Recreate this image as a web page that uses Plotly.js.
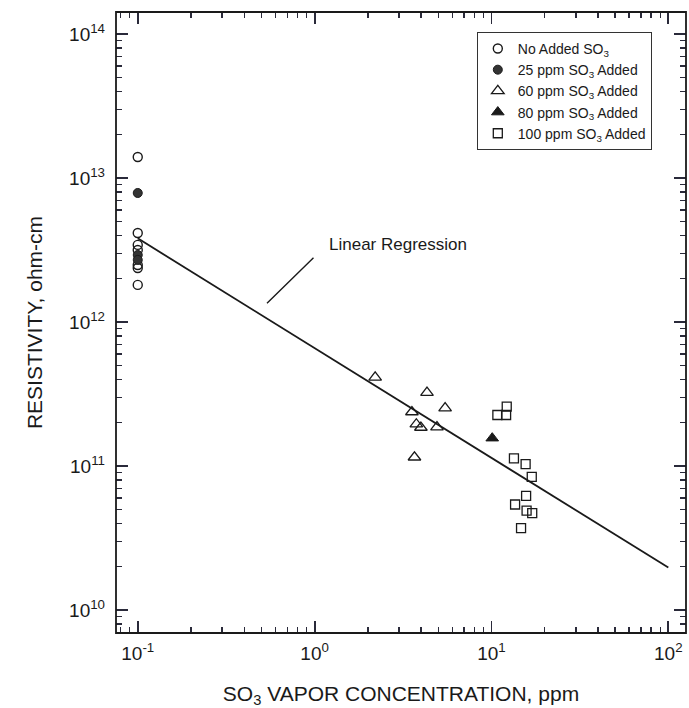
<!DOCTYPE html>
<html>
<head>
<meta charset="utf-8">
<script src="https://cdn.plot.ly/plotly-3.0.1.min.js"></script>
<style>
html,body{margin:0;padding:0;background:#fff;}
#chart{width:689px;height:708px;}
</style>
</head>
<body>
<div id="chart"></div>
<script>
// ---- data ----
const noAddedX = [0.1, 0.1, 0.1, 0.1, 0.1, 0.1, 0.1];
const noAddedY = [1.40e13, 4.15e12, 3.43e12, 3.16e12, 2.49e12, 2.37e12, 1.81e12];

const add25X = [0.1, 0.1, 0.1];
const add25Y = [7.87e12, 2.92e12, 2.70e12];

const add60X = [2.20, 4.32, 5.47, 3.55, 3.76, 3.99, 4.92, 3.67];
const add60Y = [4.13e11, 3.23e11, 2.52e11, 2.37e11, 1.95e11, 1.85e11, 1.86e11, 1.15e11];

const add80X = [10.1];
const add80Y = [1.56e11];

const add100X = [10.8, 12.1, 12.2, 13.4, 15.6, 16.9, 15.7, 13.6, 15.8, 17.0, 14.7];
const add100Y = [2.26e11, 2.26e11, 2.58e11, 1.13e11, 1.03e11, 8.4e10, 6.2e10, 5.4e10, 4.9e10, 4.7e10, 3.7e10];

const regX = [0.1, 100];
const regY = [3.81e12, 1.97e10];

const seriesNames = [
  "No Added SO<sub>3</sub>",
  "25 ppm SO<sub>3</sub> Added",
  "60 ppm SO<sub>3</sub> Added",
  "80 ppm SO<sub>3</sub> Added",
  "100 ppm SO<sub>3</sub> Added"
];

// tick labels
const xTickVals = [0.1, 1, 10, 100];
const xTickText = ["10<sup>-1</sup>", "10<sup>0</sup>", "10<sup>1</sup>", "10<sup>2</sup>"];
const yTickVals = [1e10, 1e11, 1e12, 1e13, 1e14];
const yTickText = ["10<sup>10</sup>", "10<sup>11</sup>", "10<sup>12</sup>", "10<sup>13</sup>", "10<sup>14</sup>"];

const xTitle = "SO<sub>3</sub> VAPOR CONCENTRATION, ppm";
const yTitle = "RESISTIVITY, ohm-cm";
const regLabel = "Linear Regression";

const FONT = "Liberation Sans, Arial, Helvetica, sans-serif";
const INK = "#1a1a1a";
const TICK = "#2a2a3a";

function minorVals(lo, hi) {
  const out = [];
  for (let e = lo; e <= hi; e++) {
    for (let d = 2; d <= 9; d++) out.push(d * Math.pow(10, e));
  }
  return out;
}
const xMinor = minorVals(-2, 2);
const yMinor = minorVals(9, 14);

const traces = [
  {x: regX, y: regY, mode: "lines", line: {color: INK, width: 1.8}, showlegend: false, hoverinfo: "skip"},
  {x: noAddedX, y: noAddedY, name: seriesNames[0], mode: "markers",
   marker: {symbol: "circle-open", size: 9, color: INK, line: {width: 1.4, color: INK}}},
  {x: add25X, y: add25Y, name: seriesNames[1], mode: "markers",
   marker: {symbol: "circle", size: 9, color: "#333333", line: {width: 1, color: INK}}},
  {x: add60X, y: add60Y, name: seriesNames[2], mode: "markers",
   marker: {symbol: "triangle-up-open", size: 11, color: INK, line: {width: 1.3, color: INK}}},
  {x: add80X, y: add80Y, name: seriesNames[3], mode: "markers",
   marker: {symbol: "triangle-up", size: 11, color: INK, line: {width: 1, color: INK}}},
  {x: add100X, y: add100Y, name: seriesNames[4], mode: "markers",
   marker: {symbol: "square-open", size: 9, color: INK, line: {width: 1.3, color: INK}}},
  // invisible helpers so the top and right tick axes get drawn
  {x: regX, y: regY, xaxis: "x2", yaxis: "y", mode: "lines", line: {width: 0, color: "rgba(0,0,0,0)"},
   showlegend: false, hoverinfo: "skip"},
  {x: regX, y: regY, xaxis: "x", yaxis: "y2", mode: "lines", line: {width: 0, color: "rgba(0,0,0,0)"},
   showlegend: false, hoverinfo: "skip"}
];

const xRange = [-1.123, 2.10];
const yRange = [9.840, 14.153];

function tickAxis(vals, minor, range, extra) {
  return Object.assign({
    type: "log", range: range, autorange: false,
    tickmode: "array", tickvals: vals,
    showgrid: false, zeroline: false, showline: false,
    ticks: "inside", ticklen: 12, tickwidth: 1.8, tickcolor: TICK,
    minor: {tickmode: "array", tickvals: minor, ticks: "inside", ticklen: 6, tickwidth: 1.4, tickcolor: TICK, showgrid: false}
  }, extra);
}

const layout = {
  width: 689,
  height: 708,
  margin: {l: 116, r: 3, t: 12, b: 75, pad: 0},
  paper_bgcolor: "#ffffff",
  plot_bgcolor: "#ffffff",
  font: {family: FONT, color: INK},
  showlegend: true,
  legend: {
    x: 0.633, y: 0.968, xanchor: "left", yanchor: "top",
    bgcolor: "#ffffff", bordercolor: "#333333", borderwidth: 1,
    font: {family: FONT, size: 14, color: INK},
    itemwidth: 30, tracegroupgap: 0
  },
  xaxis: tickAxis(xTickVals, xMinor, xRange, {
    ticktext: xTickText,
    tickfont: {family: FONT, size: 19, color: INK},
    ticklabelstandoff: 7,
    title: {text: xTitle, font: {family: FONT, size: 21, color: INK}}
  }),
  yaxis: tickAxis(yTickVals, yMinor, yRange, {
    ticktext: yTickText,
    tickfont: {family: FONT, size: 19, color: INK},
    ticklabelstandoff: 10,
    automargin: true,
    title: {text: yTitle, font: {family: FONT, size: 21, color: INK}, standoff: 20}
  }),
  xaxis2: tickAxis(xTickVals, xMinor, xRange, {
    overlaying: "x", side: "top", anchor: "y", showticklabels: false
  }),
  yaxis2: tickAxis(yTickVals, yMinor, yRange, {
    overlaying: "y", side: "right", anchor: "x", showticklabels: false
  }),
  shapes: [
    {type: "rect", xref: "paper", yref: "paper", x0: 0, x1: 1, y0: 0, y1: 1,
     line: {color: INK, width: 1.8}, fillcolor: "rgba(0,0,0,0)", layer: "above"}
  ],
  annotations: [
    {x: Math.log10(1.18), y: Math.log10(3.48e12), xref: "x", yref: "y", text: regLabel,
     showarrow: false, xanchor: "left", yanchor: "middle",
     font: {family: FONT, size: 17, color: INK}},
    {x: Math.log10(0.538), y: Math.log10(1.35e12), xref: "x", yref: "y", text: "",
     showarrow: true, arrowhead: 0, arrowwidth: 1.4, arrowcolor: INK, ax: 48, ay: -47}
  ]
};

Plotly.newPlot("chart", traces, layout, {displayModeBar: false, staticPlot: true});
</script>
</body>
</html>
